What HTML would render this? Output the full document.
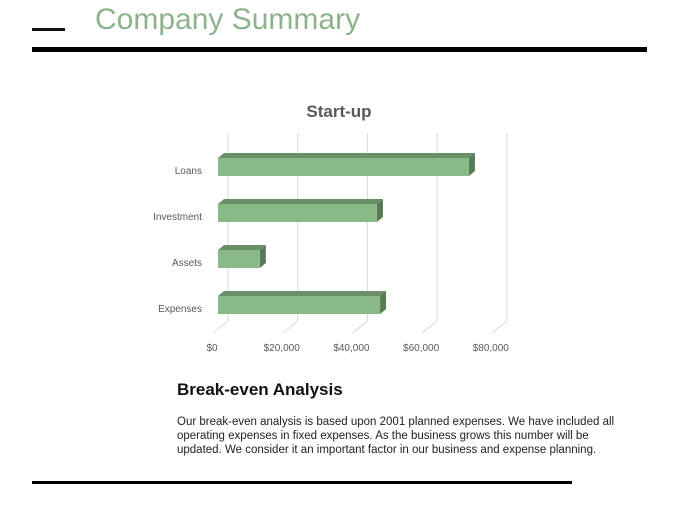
<!DOCTYPE html>
<html><head><meta charset="utf-8"><style>
body{margin:0;width:680px;height:510px;background:#fff;position:relative;overflow:hidden;font-family:"Liberation Sans",sans-serif}
.a{position:absolute}
</style></head><body>
<div class="a" style="left:32px;top:28px;width:33px;height:3px;background:#111"></div>
<div class="a" style="left:95px;top:3px;font-size:30px;color:#8db38e">Company Summary</div>
<div class="a" style="left:32px;top:47px;width:615px;height:5px;background:#000"></div>
<svg class="a" style="left:0;top:0" width="680" height="370">
<text x="339" y="117" text-anchor="middle" font-size="17" font-weight="bold" fill="#595959" font-family="Liberation Sans, sans-serif">Start-up</text>
<g id="grid"></g><g id="bars"></g><g id="labels"></g>
</svg>
<div class="a" style="left:177px;top:380px;font-size:17px;font-weight:bold;color:#111">Break-even Analysis</div>
<div class="a" style="left:177px;top:415px;width:450px;font-size:11.5px;line-height:14px;color:#222">Our break-even analysis is based upon 2001 planned expenses. We have included all operating expenses in fixed expenses. As the business grows this number will be updated. We consider it an important factor in our business and expense planning.</div>
<div class="a" style="left:32px;top:481px;width:540px;height:3px;background:#000"></div>
<script>
const categories=["Loans","Investment","Assets","Expenses"];
const values=[72000,45600,12000,46500];
const ticks=[0,20000,40000,60000,80000];
const tickLabels=["$0","$20,000","$40,000","$60,000","$80,000"];
const NS="http://www.w3.org/2000/svg";
const x0=218,pxPer=69.7/20000,dx=6,dy=5;
const X=v=>x0+v*pxPer;
const Y=i=>158+i*46;
function mk(t,a,p){const e=document.createElementNS(NS,t);for(const k in a)e.setAttribute(k,a[k]);p.appendChild(e);return e;}
const g=document.getElementById('grid'),b=document.getElementById('bars'),l=document.getElementById('labels');
ticks.forEach((t,i)=>{
 const x=X(t);
 const gl=mk('polyline',{points:`${x+dx+4},133 ${x+dx+4},321 ${x-5},333`,fill:'none',stroke:'#d9d9d9','stroke-width':1},g);
 
 
 const tx=mk('text',{x:x-6,y:351,'text-anchor':'middle','font-size':10,fill:'#595959','font-family':'Liberation Sans, sans-serif'},l);
 tx.textContent=tickLabels[i];
 
 
});
categories.forEach((c,i)=>{
 const y=Y(i),x1=X(values[i]),h=18;
 const grp=mk('g',{},b);
 
 
 mk('polygon',{points:`${x0},${y} ${x0+dx},${y-dy} ${x1+dx},${y-dy} ${x1},${y}`,fill:'#6b8f68'},grp);
 mk('polygon',{points:`${x1},${y} ${x1+dx},${y-dy} ${x1+dx},${y+h-dy} ${x1},${y+h}`,fill:'#587a56'},grp);
 mk('rect',{x:x0,y:y,width:x1-x0,height:h,fill:'#89ba86'},grp);
 const tx=mk('text',{x:202,y:y+h/2+7,'text-anchor':'end','font-size':10,fill:'#595959','font-family':'Liberation Sans, sans-serif'},l);
 tx.textContent=c;
 
 
});
</script>
</body></html>
